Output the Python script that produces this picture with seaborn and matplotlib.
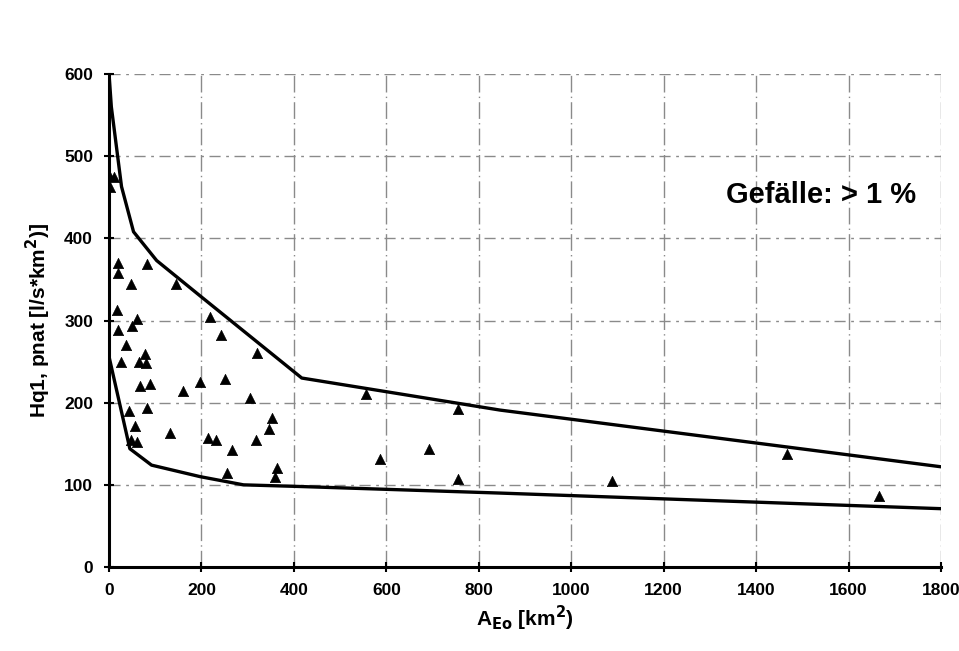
import matplotlib
matplotlib.use("Agg")
import matplotlib.pyplot as plt
import seaborn as sns
import pandas as pd

# Data
area = [0, 10, 3, 20, 20, 82, 47, 145, 17, 61, 20, 50, 37, 78, 25, 65, 80,
        66, 89, 159, 197, 251, 219, 242, 321, 304, 43, 83, 56, 47, 60, 132,
        215, 231, 265, 317, 352, 346, 255, 363, 359, 557, 586, 692, 754, 754,
        1088, 1467, 1666]
hq = [477, 475, 462, 370, 358, 369, 345, 345, 313, 302, 289, 293, 270, 259,
      249, 249, 248, 220, 223, 214, 225, 229, 304, 282, 261, 206, 190, 193,
      172, 154, 152, 163, 157, 155, 143, 154, 181, 168, 115, 120, 109, 211,
      131, 144, 192, 107, 105, 138, 86]

upper_x = [0, 5, 27, 53, 103, 197, 417, 846, 1800]
upper_y = [600, 560, 463, 408, 373, 330, 230, 191, 122]
lower_x = [0, 45, 92, 197, 291, 413, 846, 1800]
lower_y = [256, 144, 124, 110, 100, 98, 90, 71]

xticks = [0, 200, 400, 600, 800, 1000, 1200, 1400, 1600, 1800]
yticks = [0, 100, 200, 300, 400, 500, 600]

sns.set_theme(style="white")
plt.rcParams['font.family'] = ['Liberation Sans Narrow', 'Liberation Sans', 'DejaVu Sans']
plt.rcParams['text.color'] = 'black'
plt.rcParams['axes.labelcolor'] = 'black'
plt.rcParams['xtick.color'] = 'black'
plt.rcParams['ytick.color'] = 'black'

fig = plt.figure(figsize=(9.59, 6.51), dpi=100)
ax = fig.add_axes([0.1137, 0.129, 0.8675, 0.7573])

pts = pd.DataFrame({"A": area, "H": hq})
up = pd.DataFrame({"A": upper_x, "H": upper_y})
lo = pd.DataFrame({"A": lower_x, "H": lower_y})

sns.lineplot(data=up, x="A", y="H", sort=False, color="black", linewidth=2.4, ax=ax)
sns.lineplot(data=lo, x="A", y="H", sort=False, color="black", linewidth=2.4, ax=ax)
sns.scatterplot(data=pts, x="A", y="H", marker="^", color="black", s=55,
                edgecolor="black", linewidth=0.5, ax=ax, zorder=5)

ax.set_xlim(0, 1800)
ax.set_ylim(0, 600)
ax.set_xticks(xticks)
ax.set_yticks(yticks)
ax.set_xticklabels([str(v) for v in xticks], fontsize=12.5, fontweight="bold")
ax.set_yticklabels([str(v) for v in yticks], fontsize=12.5, fontweight="bold")
ax.tick_params(axis="both", direction="inout", length=7, width=1.5, color="black",
               labelcolor="black", bottom=True, left=True, pad=8)

for s in ["top", "right"]:
    ax.spines[s].set_visible(False)
for s in ["left", "bottom"]:
    ax.spines[s].set_color("black")
    ax.spines[s].set_linewidth(2.2)

for y in yticks[1:]:
    ax.axhline(y, color="#8a8a8a", linewidth=1.0, linestyle=(0, (8, 4, 2, 4)), zorder=0)
for x in xticks[1:]:
    ax.axvline(x, color="#8a8a8a", linewidth=1.0, linestyle=(0, (12, 3, 1, 3)), zorder=0)

ax.set_xlabel(r"A$_{\mathbf{Eo}}$ [km$^{\mathbf{2}}$)", fontsize=15, fontweight="bold",
              color="black")
ax.set_ylabel(r"Hq1, pnat [l/s*km$^{\mathbf{2}}$)]", fontsize=15, fontweight="bold",
              color="black", labelpad=8)

ax.text(0.742, 0.755, "Gefälle: > 1 %", transform=ax.transAxes, fontsize=21,
        fontweight="bold", ha="left", va="center", color="black")

fig.savefig("out.png", dpi=100, facecolor="white")
